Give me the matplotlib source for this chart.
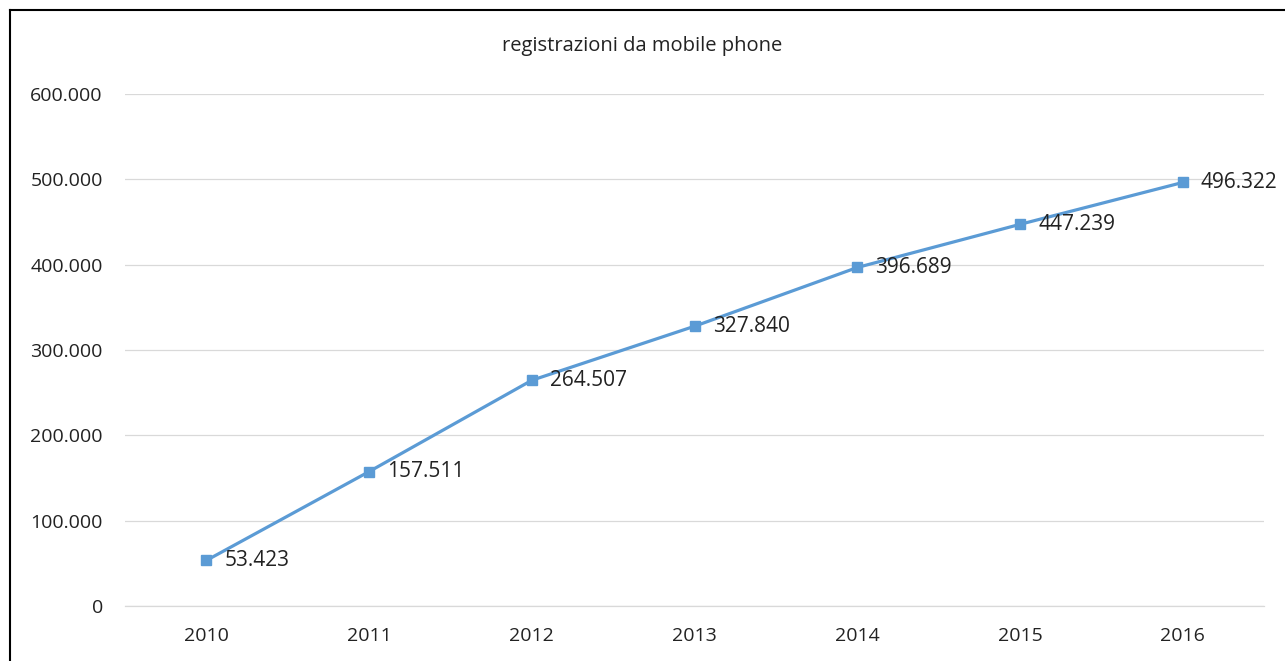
import matplotlib.pyplot as plt
from matplotlib.lines import Line2D
from matplotlib.ticker import FuncFormatter

# registrazioni annue da mobile phone
anni = ['2010', '2011', '2012', '2013', '2014', '2015', '2016']
registrazioni = [53423, 157511, 264507, 327840, 396689, 447239, 496322]
y_ticks = [0, 100000, 200000, 300000, 400000, 500000, 600000]


def fmt_it(v, pos=None):
    # separatore delle migliaia all'italiana
    return f'{int(v):,}'.replace(',', '.')


plt.rcParams['font.family'] = ['Open Sans', 'DejaVu Sans']

fig = plt.figure(figsize=(12.85, 6.61), dpi=100)
ax = fig.add_axes([0.0973, 0.0832, 0.8864, 0.7746])

x = list(range(len(anni)))
ax.plot(x, registrazioni, color='#5B9BD5', linewidth=2.3,
        marker='s', markersize=7, zorder=3)

# etichette dei valori a destra dei punti
for xi, v in zip(x, registrazioni):
    ax.annotate(fmt_it(v), (xi, v), xytext=(13, 0), textcoords='offset points',
                ha='left', va='center', fontsize=15, color='#222222')

ax.set_xlim(-0.5, len(anni) - 0.5)
ax.set_ylim(0, 600000)
ax.set_yticks(y_ticks)
ax.yaxis.set_major_formatter(FuncFormatter(fmt_it))
ax.set_xticks(x)
ax.set_xticklabels(anni)
ax.tick_params(length=0, labelsize=14, colors='#222222')
ax.tick_params(axis='y', pad=16)
ax.tick_params(axis='x', pad=15)
ax.grid(axis='y', color='#D9D9D9', linewidth=0.9)
ax.axhline(0, color='#D9D9D9', linewidth=0.9, clip_on=False, zorder=0)
ax.set_axisbelow(True)
for s in ax.spines.values():
    s.set_visible(False)

fig.text(0.5, 0.93, 'registrazioni da mobile phone', ha='center', va='center',
         fontsize=14.5, color='#222222')

# cornice del grafico (lato superiore e sinistro)
fig.add_artist(Line2D([10 / 1285, 1.0], [1 - 10 / 661, 1 - 10 / 661],
                      transform=fig.transFigure, color='black', linewidth=1.5))
fig.add_artist(Line2D([10 / 1285, 10 / 1285], [0, 1 - 10 / 661],
                      transform=fig.transFigure, color='black', linewidth=1.5))

fig.savefig('out.png', dpi=100)
